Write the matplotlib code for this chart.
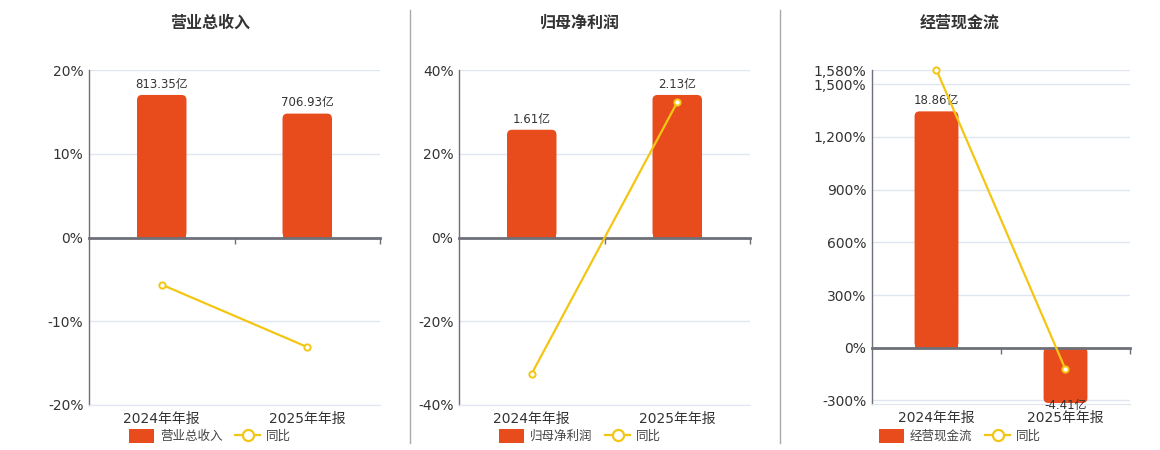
import matplotlib
matplotlib.use('Agg')
import matplotlib.pyplot as plt
from matplotlib.patches import FancyBboxPatch, Rectangle, Patch
from matplotlib.lines import Line2D
from matplotlib.container import BarContainer
from matplotlib.ticker import FuncFormatter

plt.rcParams['font.family'] = ['DejaVu Sans', 'Noto Sans CJK SC']

# ---------------- data ----------------
categories = ['2024年年报', '2025年年报']
titles = ['营业总收入', '归母净利润', '经营现金流']

revenue = [813.35, 706.93]          # 亿
revenue_yoy = [-5.63, -13.08]       # %
profit = [1.61, 2.13]               # 亿
profit_yoy = [-32.5, 32.3]          # %
cashflow = [18.86, -4.41]           # 亿
cashflow_yoy = [1580.0, -123.4]     # %

pct_ticks_1 = [-20, -10, 0, 10, 20]
pct_ticks_2 = [-40, -20, 0, 20, 40]
pct_ticks_3 = [-300, 0, 300, 600, 900, 1200, 1500, 1580]

# ---------------- style ----------------
W, H = 1160, 450
BAR_C = '#E84C1D'
LINE_C = '#F3C614'
AXIS_C = '#6E7079'
GRID_C = '#E0E6F1'
TXT_C = '#333333'

fig = plt.figure(figsize=(W / 100, H / 100), dpi=100)

panels = [
    dict(title=titles[0], bars=revenue, yoy=revenue_yoy, ticks=pct_ticks_1,
         plim=(-20, 20), box=(89, 70, 380, 405), cx=210),
    dict(title=titles[1], bars=profit, yoy=profit_yoy, ticks=pct_ticks_2,
         plim=(-40, 40), box=(459, 70, 750, 405), cx=580),
    dict(title=titles[2], bars=cashflow, yoy=cashflow_yoy, ticks=pct_ticks_3,
         plim=(-320, 1580), box=(872, 70, 1130, 404), cx=960),
]


def px_rect(box):
    l, t, r, b = box
    return [l / W, 1 - b / H, (r - l) / W, (b - t) / H]


def round_bars(ax, bars, rpx, wpx, hpx):
    x0, x1 = ax.get_xlim()
    y0, y1 = ax.get_ylim()
    xd = (x1 - x0) / wpx
    yd = (y1 - y0) / hpx
    for b in bars:
        x, y, w, h = b.get_x(), b.get_y(), b.get_width(), b.get_height()
        bot = min(y, y + h)
        hh = abs(h)
        fb = FancyBboxPatch((x, bot), w, hh,
                            boxstyle=f'round,pad=0,rounding_size={rpx * xd}',
                            mutation_aspect=yd / xd, fc=BAR_C, ec='none', zorder=1)
        ax.add_patch(fb)
        if h >= 0:
            base = Rectangle((x, y), w, hh / 2, fc=BAR_C, ec='none', zorder=1)
        else:
            base = Rectangle((x, h / 2), w, -h / 2, fc=BAR_C, ec='none', zorder=1)
        ax.add_patch(base)
        b.set_visible(False)


xpos = list(range(len(categories)))
xlim = (-0.5, len(categories) - 0.5)

for p in panels:
    rect = px_rect(p['box'])
    wpx = p['box'][2] - p['box'][0]
    hpx = p['box'][3] - p['box'][1]

    # --- grid / percent axis ---
    axg = fig.add_axes(rect)
    axg.set_xlim(*xlim)
    axg.set_ylim(*p['plim'])
    axg.set_yticks(p['ticks'])
    axg.yaxis.set_major_formatter(FuncFormatter(lambda v, _: f'{v:,.0f}%'))
    axg.yaxis.grid(True, color=GRID_C, lw=1)
    axg.set_axisbelow(True)
    axg.set_xticks(xpos, categories)
    axg.tick_params(axis='x', length=0, pad=5, labelsize=10, labelcolor=TXT_C)
    axg.tick_params(axis='y', length=0, pad=4, labelsize=10, labelcolor=TXT_C)
    for s in ['top', 'right']:
        axg.spines[s].set_visible(False)
    axg.spines['bottom'].set_color(GRID_C)
    axg.spines['left'].set_color(AXIS_C)
    axg.spines['left'].set_linewidth(1)

    # --- bar axis ---
    axb = fig.add_axes(rect)
    axb.patch.set_visible(False)
    axb.set_xlim(*xlim)
    top = 1.175 * max(p['bars'])
    lo, hi = p['plim']
    axb.set_ylim(top * lo / hi, top)
    bars = axb.bar(xpos, p['bars'], width=0.34, color=BAR_C)
    for b, v in zip(bars, p['bars']):
        axb.bar_label(BarContainer([b], datavalues=[v], orientation='vertical'),
                      labels=[f'{v}亿'], padding=3 if v >= 0 else -3,
                      fontsize=8.5, color=TXT_C)
    round_bars(axb, bars, 5, wpx, hpx)
    axb.yaxis.set_visible(False)
    for s in ['top', 'right', 'left']:
        axb.spines[s].set_visible(False)
    axb.spines['bottom'].set_position(('data', 0))
    axb.spines['bottom'].set_color(AXIS_C)
    axb.spines['bottom'].set_linewidth(2)
    axb.spines['bottom'].set_zorder(3)
    axb.set_xticks([x + 0.5 for x in xpos], [''] * len(xpos))
    axb.tick_params(axis='x', length=4, width=1, color=AXIS_C, direction='out')

    # --- line axis ---
    axl = fig.add_axes(rect)
    axl.patch.set_visible(False)
    axl.set_xlim(*xlim)
    axl.set_ylim(*p['plim'])
    axl.plot(xpos, p['yoy'], color=LINE_C, lw=1.6, marker='o', ms=4.5,
             mfc='white', mec=LINE_C, mew=1.4, clip_on=False, zorder=5)
    axl.axis('off')

    # --- title ---
    fig.text(p['cx'] / W, 1 - 23 / H, p['title'], ha='center', va='center',
             fontsize=11.5, fontweight='bold', color=TXT_C,
             family=['Noto Sans CJK SC', 'DejaVu Sans'])

    # --- legend ---
    handles = [Patch(facecolor=BAR_C, edgecolor='none'),
               Line2D([], [], color=LINE_C, lw=1.6, marker='o', ms=8,
                      mfc='white', mec=LINE_C, mew=1.6)]
    leg = fig.legend(handles, [p['title'], '同比'], loc='center',
                     bbox_to_anchor=(p['cx'] / W, 1 - 436 / H), ncol=2,
                     frameon=False, fontsize=9, handlelength=2.0,
                     handleheight=1.3, columnspacing=1.0, handletextpad=0.5,
                     borderaxespad=0, borderpad=0)
    for t in leg.get_texts():
        t.set_color('#444444')

# separators
for xs in (410, 780):
    fig.add_artist(Line2D([xs / W, xs / W], [1 - 10 / H, 1 - 443 / H],
                          color='#AAAAAA', lw=1))

fig.savefig('out.png', dpi=100)
